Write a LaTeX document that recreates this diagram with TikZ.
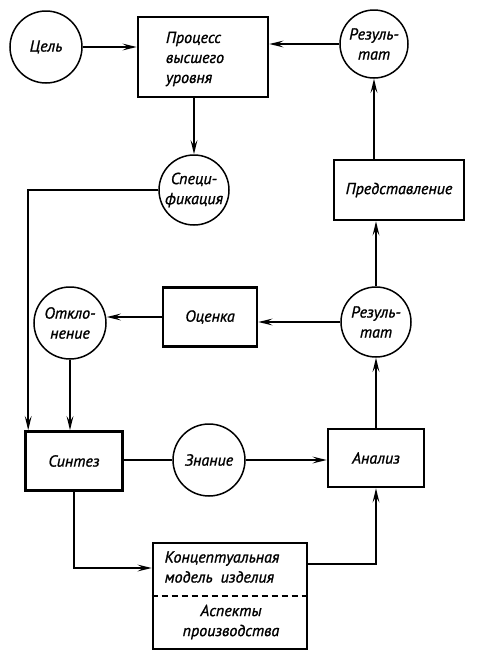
\documentclass[tikz,border=0pt]{standalone}
\usepackage{fontspec}
\setmainfont{PT Sans}[ItalicFeatures={FakeBold=1.2}]
\usetikzlibrary{arrows.meta,calc}
\begin{document}
\begin{tikzpicture}[x=1pt,y=-1pt,
  every node/.style={font=\itshape\fontsize{16}{20}\selectfont, inner sep=0pt},
  circ/.style={draw, circle, line width=1.5pt, minimum size=#1, align=center},
  boxnode/.style={draw, rectangle, line width=2.6pt, align=center},
  arr/.style={line width=1.5pt, -{Stealth[length=5mm,width=2.4mm,inset=2mm]}},
  ln/.style={line width=1.5pt}]
\useasboundingbox (0,0) rectangle (478,657);
% nodes
\node[circ=72] (goal) at (46,47) {Цель};
\node[boxnode, minimum width=130, minimum height=80] (proc) at (203,57) {};
\node[align=left] (proct) at (195,59) {Процесс\\высшего\\уровня};
\node[circ=68] (res1) at (374,44) {Резуль-\\тат};
\node[circ=70] (spec) at (194,190) {Специ-\\фикация};
\node[boxnode, minimum width=130, minimum height=60] (pred) at (399,190) {Представление};
\node[circ=72] (otk) at (70,323) {Откло-\\нение};
\node[boxnode, minimum width=94, minimum height=59] (ots) at (210,317) {Оценка};
\node[circ=70] (res2) at (376,322) {Резуль-\\тат};
\node[boxnode, minimum width=97, minimum height=59] (syn) at (74,461) {Синтез};
\node[circ=72] (zn) at (209,460) {Знание};
\node[boxnode, minimum width=96, minimum height=58] (an) at (376,458) {Анализ};
\node[boxnode, minimum width=154, minimum height=106] (con) at (230,596) {};
\node[align=left] (c1) at (222,567) {Концептуальная\\модель\enspace изделия};
\node[align=center] (c2) at (231,622) {Аспекты\\производства};
\draw[line width=1.5pt, dash pattern=on 6pt off 4pt] (con.west) -- (con.east);
% connectors
\draw[arr] (goal.east) -- (goal.east -| proc.west);
\draw[arr] (res1.west) -- (res1.west -| proc.east);
\draw[arr] (spec.north |- proc.south) -- (spec.north);
\coordinate (sl) at ($(syn.north west)+(4,0)$);
\draw[arr] (spec.west) -| (sl);
\draw[arr] (pred.north -| res1.south) -- (res1.south);
\draw[arr] (res2.north) -- (res2.north |- pred.south);
\draw[arr] (res2.west) -- (res2.west -| ots.east);
\draw[arr] (ots.west) -- (ots.west -| otk.east);
\draw[arr] (otk.south) -- (otk.south |- syn.north);
\draw[ln] (syn.east |- zn.west) -- (zn.west);
\draw[arr] (zn.east) -- (zn.east -| an.west);
\draw[arr] (an.north) -- (an.north |- res2.south);
\coordinate (cw) at ($(con.west)+(0,-28)$);
\draw[arr] (syn.south) |- (cw);
\coordinate (ce) at ($(con.east)+(0,-32)$);
\draw[arr] (ce) -| (an.south);
\end{tikzpicture}
\end{document}
